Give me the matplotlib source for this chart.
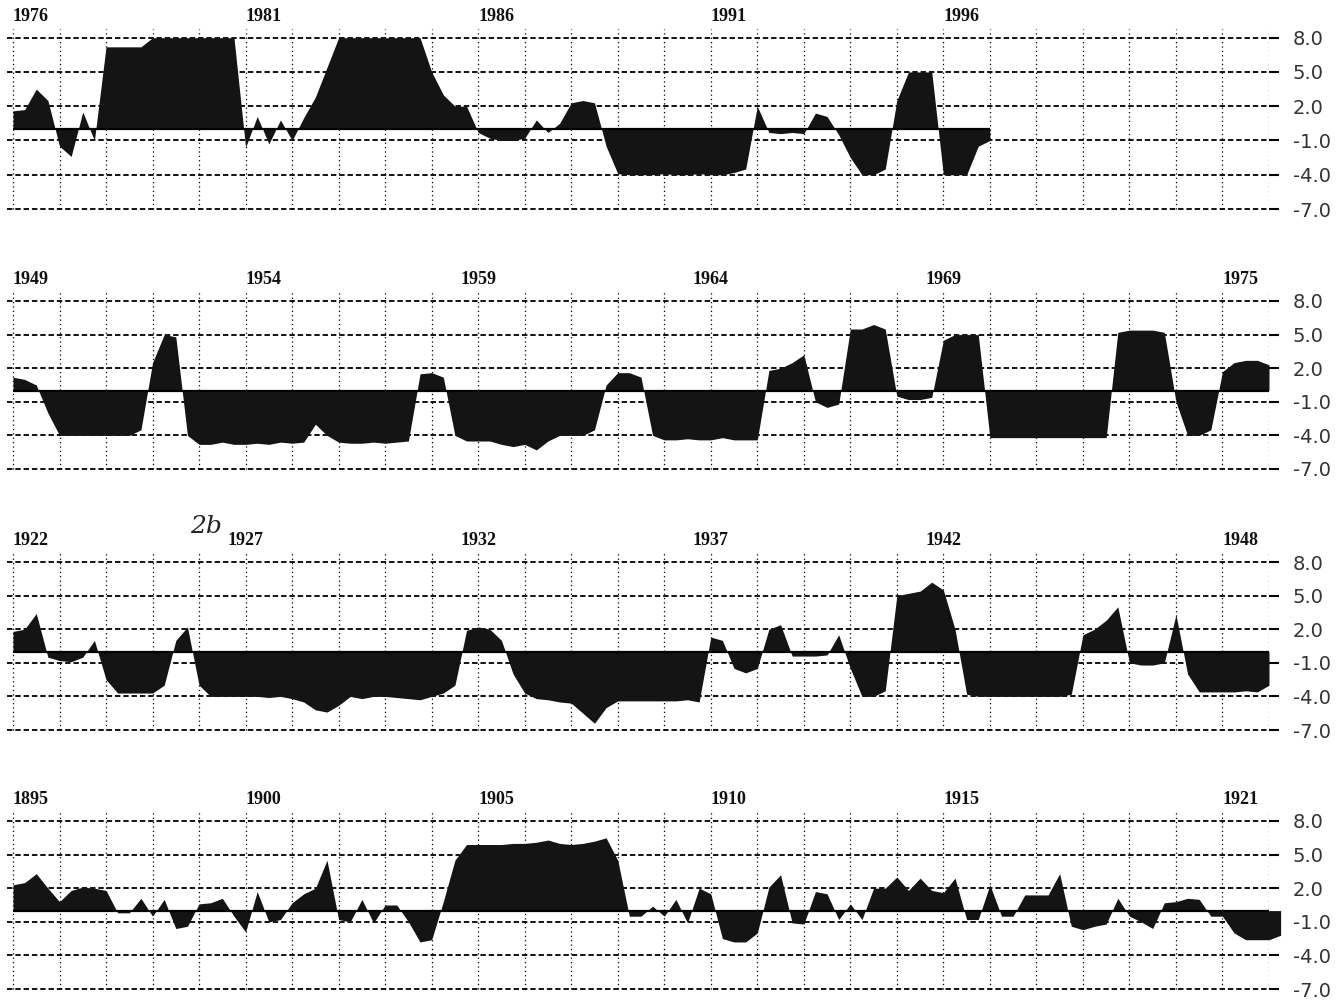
import matplotlib.pyplot as plt
import numpy as np

# quarterly index values (x = start + 0.25*i)
vals_1976 = [1.6, 1.7, 3.5, 2.5,  -1.5, -2.4, 1.5, -1.0,  7.2, 7.2, 7.2, 7.2,
             8.0, 8.0, 8.0, 8.0,  8.0, 8.0, 8.0, 8.0,  -1.6, 1.1, -1.3, 0.8,
             -1.0, 1.0, 2.8, 5.4,  8.0, 8.0, 8.0, 8.0,  8.0, 8.0, 8.0, 8.0,
             5.0, 3.0, 2.0, 2.0,  -0.3, -0.8, -1.0, -1.0,  -0.8, 0.8, -0.3, 0.5,
             2.3, 2.5, 2.3, -1.5,  -3.9, -4.0, -4.0, -4.0,  -3.9, -4.0, -4.0, -3.9,
             -4.0, -4.0, -3.8, -3.5,  2.0, -0.3, -0.4, -0.3,  -0.4, 1.4, 1.1, -0.5,
             -2.5, -4.0, -4.0, -3.5,  2.5, 5.0, 5.0, 5.0,  -4.0, -4.0, -4.0, -1.5,
             -1.0]
vals_1949 = [1.2, 1.0, 0.5, -2.0,  -4.0, -4.0, -4.0, -4.0,  -4.0, -4.0, -4.0, -3.5,
             2.5, 5.0, 4.8, -4.0,  -4.8, -4.8, -4.6, -4.8,  -4.8, -4.7, -4.8, -4.6,
             -4.7, -4.6, -3.0, -4.0,  -4.6, -4.7, -4.7, -4.6,  -4.7, -4.6, -4.5, 1.5,
             1.6, 1.2, -4.0, -4.5,  -4.5, -4.5, -4.8, -5.0,  -4.8, -5.3, -4.5, -4.0,
             -4.0, -4.0, -3.5, 0.5,  1.6, 1.6, 1.2, -4.0,  -4.4, -4.4, -4.3, -4.4,
             -4.4, -4.2, -4.4, -4.4,  -4.4, 1.8, 2.0, 2.5,  3.2, -1.0, -1.5, -1.2,
             5.5, 5.5, 5.9, 5.5,  -0.5, -0.8, -0.8, -0.6,  4.5, 5.0, 5.0, 5.0,
             -4.2, -4.2, -4.2, -4.2,  -4.2, -4.2, -4.2, -4.2,  -4.2, -4.2, -4.2, 5.2,
             5.4, 5.4, 5.4, 5.2,  -1.0, -4.0, -4.0, -3.5,  1.7, 2.5, 2.7, 2.7,
             2.3]
vals_1922 = [1.8, 2.0, 3.4, -0.5,  -0.8, -0.9, -0.5, 1.0,  -2.5, -3.7, -3.7, -3.7,
             -3.7, -3.0, 1.0, 2.2,  -3.0, -4.0, -4.0, -4.0,  -4.0, -4.0, -4.1, -4.0,
             -4.2, -4.5, -5.2, -5.4,  -4.8, -4.0, -4.2, -4.0,  -4.0, -4.1, -4.2, -4.3,
             -4.0, -3.7, -3.0, 1.9,  2.2, 2.0, 1.0, -2.0,  -3.7, -4.2, -4.3, -4.5,
             -4.6, -5.5, -6.4, -5.0,  -4.4, -4.4, -4.4, -4.4,  -4.4, -4.4, -4.3, -4.5,
             1.3, 1.0, -1.5, -1.9,  -1.5, 2.0, 2.4, -0.4,  -0.4, -0.4, -0.3, 1.5,
             -1.5, -4.0, -4.0, -3.5,  5.0, 5.2, 5.4, 6.2,  5.5, 2.0, -3.8, -4.0,
             -4.0, -4.0, -4.0, -4.0,  -4.0, -4.0, -4.0, -3.8,  1.5, 2.0, 2.8, 4.0,
             -1.0, -1.2, -1.2, -1.0,  3.3, -2.0, -3.6, -3.6,  -3.6, -3.6, -3.5, -3.6,
             -3.0]
vals_1895 = [2.3, 2.5, 3.3, 2.0,  0.8, 1.8, 2.1, 2.0,  1.8, -0.2, -0.2, 1.1,
             -0.5, 1.0, -1.6, -1.4,  0.6, 0.7, 1.1, -0.5,  -1.9, 1.7, -1.0, -0.8,
             0.7, 1.5, 2.0, 4.5,  -0.8, -1.0, 1.0, -1.1,  0.5, 0.5, -1.0, -2.8,
             -2.6, 0.8, 4.5, 5.9,  5.9, 5.9, 5.9, 6.0,  6.0, 6.1, 6.3, 6.0,
             5.9, 6.0, 6.2, 6.5,  4.5, -0.5, -0.5, 0.4,  -0.5, 1.0, -1.1, 2.0,
             1.5, -2.5, -2.8, -2.8,  -2.0, 2.1, 3.2, -1.1,  -1.2, 1.7, 1.5, -0.8,
             0.6, -0.8, 2.0, 2.0,  3.0, 1.8, 2.9, 1.8,  1.6, 2.9, -0.8, -0.8,
             2.3, -0.5, -0.5, 1.4,  1.4, 1.4, 3.3, -1.4,  -1.7, -1.4, -1.2, 1.1,
             -0.5, -1.0, -1.6, 0.7,  0.8, 1.1, 1.0, -0.5,  -0.5, -2.0, -2.6, -2.6,
             -2.6, -2.2]

labels_1976 = ['1976', '1981', '1986', '1991', '1996']
labels_1949 = ['1949', '1954', '1959', '1964', '1969', '1975']
labels_1922 = ['1922', '1927', '1932', '1937', '1942', '1948']
labels_1895 = ['1895', '1900', '1905', '1910', '1915', '1921']
ha_1976 = ['left'] * 5
ha_1949 = ['left', 'left', 'center', 'center', 'center', 'left']
ha_1922 = ['left', 'center', 'center', 'center', 'center', 'left']
ha_1895 = ['left'] * 6

yticks = [8, 5, 2, -1, -4, -7]
ylabels = ['8.0', '5.0', '2.0', '-1.0', '-4.0', '-7.0']

panels = [(1976, vals_1976, labels_1976, ha_1976),
          (1949, vals_1949, labels_1949, ha_1949),
          (1922, vals_1922, labels_1922, ha_1922),
          (1895, vals_1895, labels_1895, ha_1895)]

W, H = 1342, 1002
top_px = [37.7, 301, 562, 821]     # pixel row of the 8.0 line
bot_px = [209, 469, 730, 989]      # pixel row of the -7.0 line
x0_px, x1_px = 13, 1269            # first and last year gridline

fig = plt.figure(figsize=(W / 100, H / 100), dpi=100)

for (start, vals, labels, has), y8, ym7 in zip(panels, top_px, bot_px):
    ppu = (ym7 - y8) / 15.0
    ylo, yhi = -7.6, 9.0
    top = y8 - (yhi - 8) * ppu
    bottom = ym7 + (-7 - ylo) * ppu
    ppy = (x1_px - x0_px) / 27.0
    left = x0_px - 0.12 * ppy
    ax = fig.add_axes([left / W, 1 - bottom / H, (x1_px - left) / W, (bottom - top) / H])
    ax.set_xlim(start - 0.12, start + 27)
    ax.set_ylim(ylo, yhi)

    t = start + 0.25 * np.arange(len(vals))
    v = np.array(vals)
    ax.fill_between(t, 0, v, color='#141414', lw=0, interpolate=True, zorder=3, clip_on=False)
    ax.plot([t[0], t[-1]], [0, 0], color='k', lw=1.6, zorder=4, solid_capstyle='butt')

    for yv in yticks:
        ax.axhline(yv, color='k', lw=1.3, ls=(0, (3, 1.6)), zorder=2)
    ax.vlines(np.arange(start, start + 28), -7, 8.8, colors='k', lw=0.9,
              linestyles=(0, (1, 2.5)), zorder=2)

    for lab, ha in zip(labels, has):
        ax.text(int(lab), 9.5, lab, ha=ha, va='baseline', fontfamily='Liberation Serif',
                fontweight='bold', fontsize=13, color='#111')

    ax.set_xticks([])
    ax.yaxis.tick_right()
    ax.set_yticks(yticks)
    ax.set_yticklabels(ylabels)
    ax.tick_params(axis='y', direction='out', length=7, width=1.5, pad=10,
                   labelsize=14, labelcolor='#333')
    for s in ax.spines.values():
        s.set_visible(False)

fig.text(190 / W, 1 - 533 / H, '2b', fontsize=18, style='italic',
         fontfamily='DejaVu Serif', color='#222')

fig.savefig('out.png', dpi=100, facecolor='white')
